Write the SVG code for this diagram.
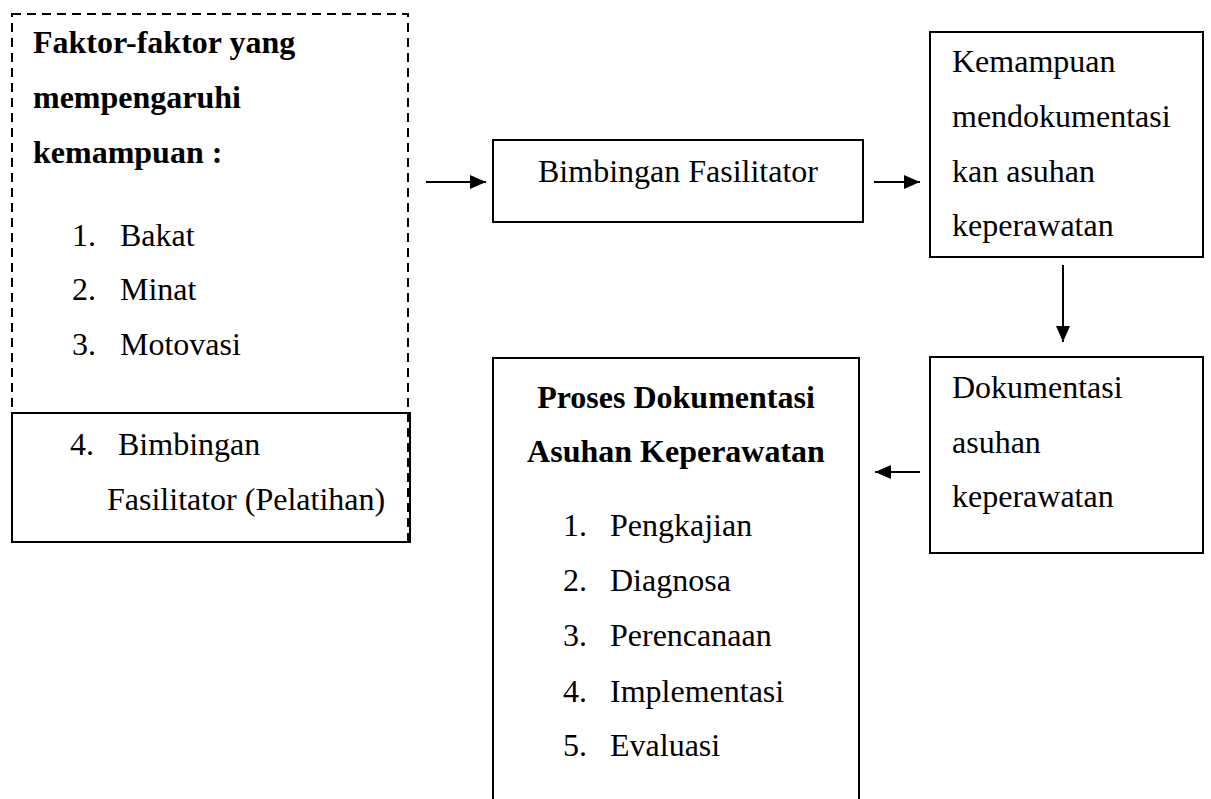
<svg xmlns="http://www.w3.org/2000/svg" width="1211" height="799" viewBox="0 0 1211 799">
<style>
  text { font-family: "Liberation Serif", "Times New Roman", serif; font-size: 32px; fill: #000; }
  .b { font-weight: bold; }
  .box { fill: none; stroke: #000; stroke-width: 2; }
  .dash { fill: none; stroke: #000; stroke-width: 2; stroke-dasharray: 9 6; }
  .conn { stroke: #000; stroke-width: 2; fill: none; marker-end: url(#ah); }
</style>
<defs>
  <marker id="ah" markerUnits="userSpaceOnUse" markerWidth="16" markerHeight="14" refX="16" refY="7" orient="auto">
    <path d="M0,0 L16,7 L0,14 Z" fill="#000"/>
  </marker>
</defs>
<rect width="1211" height="799" fill="#fff"/>

<g id="faktor">
  <rect class="box" x="12" y="413" width="398" height="129"/>
  <rect class="dash" x="12" y="14" width="396" height="528"/>
  <text class="b" x="33" y="53">Faktor-faktor yang</text>
  <text class="b" x="33" y="108">mempengaruhi</text>
  <text class="b" x="33" y="163">kemampuan :</text>
  <text x="72" y="246">1.</text><text x="120" y="246">Bakat</text>
  <text x="72" y="300">2.</text><text x="120" y="300">Minat</text>
  <text x="72" y="355">3.</text><text x="120" y="355">Motovasi</text>
  <text x="70" y="455">4.</text><text x="118" y="455">Bimbingan</text>
  <text x="107" y="510">Fasilitator (Pelatihan)</text>
</g>

<g id="bimbingan">
  <rect class="box" x="493" y="140" width="370" height="82"/>
  <text x="678" y="182" text-anchor="middle">Bimbingan Fasilitator</text>
</g>

<g id="kemampuan">
  <rect class="box" x="930" y="32" width="273" height="225"/>
  <text x="952" y="72">Kemampuan</text>
  <text x="952" y="127">mendokumentasi</text>
  <text x="952" y="182">kan asuhan</text>
  <text x="952" y="236">keperawatan</text>
</g>

<g id="dokumentasi">
  <rect class="box" x="930" y="357" width="273" height="196"/>
  <text x="952" y="398">Dokumentasi</text>
  <text x="952" y="453">asuhan</text>
  <text x="952" y="507">keperawatan</text>
</g>

<g id="proses">
  <path class="box" d="M493,810 L493,358 L859,358 L859,810"/>
  <text class="b" x="676" y="408" text-anchor="middle">Proses Dokumentasi</text>
  <text class="b" x="676" y="462" text-anchor="middle">Asuhan Keperawatan</text>
  <text x="563" y="536">1.</text><text x="610" y="536">Pengkajian</text>
  <text x="563" y="591">2.</text><text x="610" y="591">Diagnosa</text>
  <text x="563" y="646">3.</text><text x="610" y="646">Perencanaan</text>
  <text x="563" y="702">4.</text><text x="610" y="702">Implementasi</text>
  <text x="563" y="756">5.</text><text x="610" y="756">Evaluasi</text>
</g>

<g id="connectors">
  <line class="conn" x1="426" y1="182" x2="486" y2="182"/>
  <line class="conn" x1="874" y1="182" x2="920" y2="182"/>
  <line class="conn" x1="1063" y1="265" x2="1063" y2="342"/>
  <line class="conn" x1="920" y1="472" x2="875" y2="472"/>
</g>
</svg>
